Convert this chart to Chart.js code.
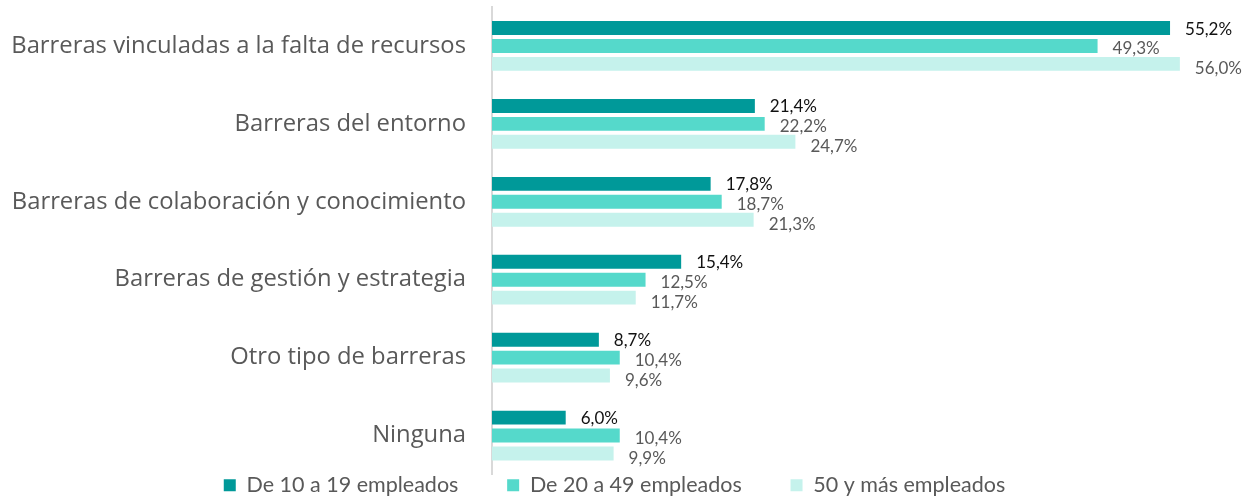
<!DOCTYPE html>
<html>
<head>
<meta charset="utf-8">
<script src="https://cdn.jsdelivr.net/npm/chart.js@4"></script>
<style>
  html, body { margin: 0; padding: 0; background: #ffffff; }
  #wrap { width: 1258px; height: 496px; }
</style>
</head>
<body>
<div id="wrap"><canvas id="barChart" width="1258" height="496"></canvas></div>
<script>
// Categories and series (percentages)
const categories = [
  'Barreras vinculadas a la falta de recursos',
  'Barreras del entorno',
  'Barreras de colaboración y conocimiento',
  'Barreras de gestión y estrategia',
  'Otro tipo de barreras',
  'Ninguna'
];
const seriesNames = ['De 10 a 19 empleados', 'De 20 a 49 empleados', '50 y más empleados'];
const small = [55.2, 21.4, 17.8, 15.4, 8.7, 6.0];
const medium = [49.3, 22.2, 18.7, 12.5, 10.4, 10.4];
const large = [56.0, 24.7, 21.3, 11.7, 9.6, 9.9];

const colors = ['#009999', '#55d9cb', '#c5f2ec'];
const labelColors = ['#111111', '#595959', '#595959'];
const labelFont = '17px Lato, "Open Sans", sans-serif';

// draws the value next to each bar
const valueLabels = {
  id: 'valueLabels',
  afterDatasetsDraw(chart) {
    const ctx = chart.ctx;
    ctx.save();
    ctx.font = labelFont;
    ctx.textBaseline = 'middle';
    ctx.textAlign = 'left';
    chart.data.datasets.forEach((ds, i) => {
      const meta = chart.getDatasetMeta(i);
      meta.data.forEach((bar, j) => {
        ctx.fillStyle = labelColors[i];
        const txt = ds.data[j].toFixed(1).replace('.', ',') + '%';
        ctx.fillText(txt, bar.x + 15, bar.y + 1 + i * 2);
      });
    });
    ctx.restore();
  }
};

const ctx = document.getElementById('barChart').getContext('2d');
new Chart(ctx, {
  type: 'bar',
  data: {
    labels: categories,
    datasets: [
      { label: seriesNames[0], data: small, backgroundColor: colors[0] },
      { label: seriesNames[1], data: medium, backgroundColor: colors[1] },
      { label: seriesNames[2], data: large, backgroundColor: colors[2] }
    ]
  },
  options: {
    indexAxis: 'y',
    responsive: false,
    animation: false,
    categoryPercentage: 0.69,
    barPercentage: 0.78,
    layout: { padding: { top: 7, right: 29, bottom: -10, left: 0 } },
    scales: {
      x: { display: false, min: 0, max: 60 },
      y: {
        // tickLength gives the gap between labels and axis (ticks not drawn)
        grid: { display: false, drawTicks: true, tickLength: 26 },
        border: { display: true, color: '#d9d9d9', width: 2 },
        ticks: {
          color: '#595959',
          padding: 0,
          font: { family: '"Open Sans", sans-serif', size: 23.8, lineHeight: 0.5 }
        },
        afterFit(scale) { scale.width = 492; }
      }
    },
    plugins: {
      tooltip: { enabled: false },
      legend: {
        position: 'bottom',
        labels: {
          color: '#595959',
          boxWidth: 12,
          boxHeight: 12,
          padding: 0,
          font: { family: 'Lato, sans-serif', size: 21.5 },
          // widen the gap between items without extra vertical padding
          generateLabels(chart) {
            const items = Chart.defaults.plugins.legend.labels.generateLabels(chart);
            items.forEach((it, k) => {
              if (k < items.length - 1) it.text = it.text + '\u2003\u2003   ';
            });
            return items;
          }
        }
      }
    }
  },
  plugins: [valueLabels]
});
</script>
</body>
</html>
